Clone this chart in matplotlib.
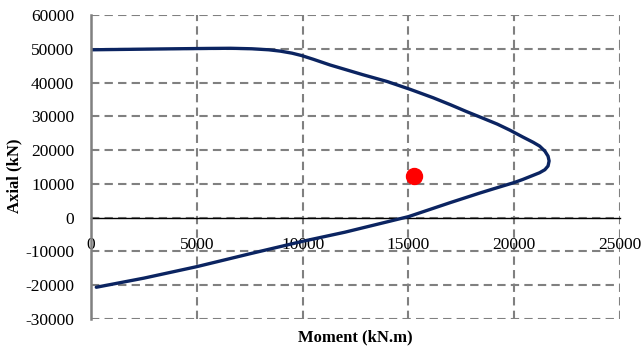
import matplotlib.pyplot as plt

# interaction curve (moment, axial) traced from pure compression to pure tension
moment = [0, 2000, 4000, 5500, 6600, 7600, 8400, 8950, 9500, 9950, 10500, 11300,
          12000, 12860, 14000, 15080, 16170, 17000, 17750, 18500, 19200, 19800,
          20400, 20900, 21200, 21450, 21600, 21650, 21600, 21450, 21200, 20800,
          20400, 20000, 19000, 18380, 17000, 16000, 15000, 13500, 12000, 10000,
          7500, 5000, 2500, 250]
axial = [49700, 49850, 50000, 50100, 50150, 50000, 49700, 49300, 48700, 48000, 46900, 45200,
         43900, 42300, 40300, 38000, 35500, 33400, 31400, 29500, 27700, 25900,
         23900, 22300, 21200, 19700, 18200, 16800, 15300, 14200, 13300, 12300,
         11300, 10400, 8500, 7300, 4500, 2400, 300, -2000, -4300, -7000,
         -10700, -14500, -17900, -20600]

# design load point
load_moment = [15260]
load_axial = [12200]

plt.rcParams['font.family'] = ['Liberation Serif', 'DejaVu Serif']
plt.rcParams['axes.unicode_minus'] = False

fig, ax = plt.subplots(figsize=(6.41, 3.49), dpi=100)
fig.subplots_adjust(left=91/641, right=620/641, top=1-15/349, bottom=1-319/349)

ax.plot(moment, axial, color="#0b2461", lw=2.4, solid_capstyle="round",
        solid_joinstyle="round")
ax.plot(load_moment, load_axial, "o", color="#ff0000", ms=11.5, zorder=5)

ax.set_xlim(0, 25000)
ax.set_ylim(-30000, 60000)
ax.set_xticks(range(0, 25001, 5000))
ax.set_yticks(range(-30000, 60001, 10000))

ax.grid(True, color="#808080", linestyle=(0, (4, 2.5)), lw=1.5)
ax.set_axisbelow(True)

for s in ["top", "right"]:
    ax.spines[s].set_visible(False)
ax.spines["left"].set_color("#808080")
ax.spines["left"].set_linewidth(1.8)
ax.spines["bottom"].set_position(("data", 0))
ax.spines["bottom"].set_color("black")
ax.spines["bottom"].set_linewidth(1.0)
ax.spines["bottom"].set_zorder(1)

ax.tick_params(axis="both", length=0, labelsize=12.5)
ax.tick_params(axis="y", pad=12)
ax.tick_params(axis="x", pad=14)

ax.set_xlabel("Moment (kN.m)", fontweight="bold", fontsize=12)
ax.set_ylabel("Axial (kN)", fontweight="bold", fontsize=12)
ax.xaxis.set_label_coords(0.5, -0.035, transform=ax.transAxes)
ax.yaxis.set_label_coords(-0.13, 0.47, transform=ax.transAxes)

plt.savefig("out.png", dpi=100)
